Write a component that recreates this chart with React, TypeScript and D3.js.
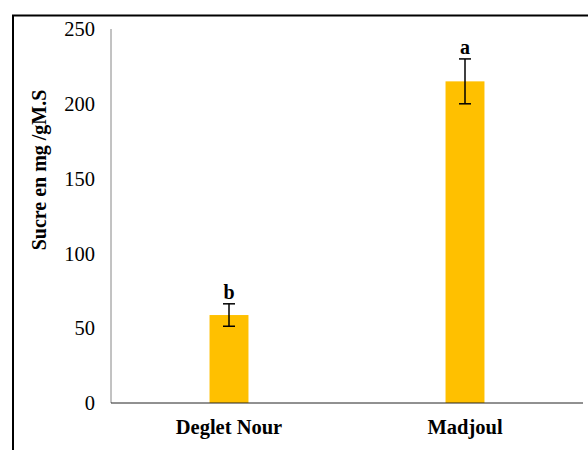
import React from "react";
import * as d3 from "d3";

const varieties = ["Deglet Nour", "Madjoul"];
const sugar = [58.8, 215];
const errors = [7.5, 15];
const letters = ["b", "a"];
const yTicks = [0, 50, 100, 150, 200, 250];

const W = 588, H = 450;
const margin = { left: 111, right: 5, top: 29, bottom: 47 };

export default function App() {
  const x = d3.scaleBand().domain(varieties).range([margin.left, W - margin.right]).padding(0);
  const y = d3.scaleLinear().domain([0, 250]).range([H - margin.bottom, margin.top]);
  const barW = x.bandwidth() * 0.165;

  return (
    <svg
      width={W}
      height={H}
      style={{ position: "absolute", left: 0, top: 0, background: "#fff", fontFamily: "Liberation Serif, Times New Roman, serif" }}
    >
      {/* outer frame, runs off the right/bottom like the original */}
      <rect x={13} y={15.5} width={600} height={500} fill="none" stroke="#000" strokeWidth={2} />

      {/* y axis */}
      <line x1={margin.left} x2={margin.left} y1={y(250)} y2={y(0)} stroke="#868686" strokeWidth={1} />
      {yTicks.map((t) => (
        <text key={t} x={95} y={y(t)} dy="0.35em" textAnchor="end" fontSize={20.5}>
          {t}
        </text>
      ))}
      <text transform="translate(46,170) rotate(-90)" textAnchor="middle" fontSize={20} fontWeight="bold">
        Sucre en mg /gM.S
      </text>

      {/* bars */}
      {varieties.map((v, i) => {
        const cx = (x(v) as number) + x.bandwidth() / 2;
        return (
          <g key={v}>
            <rect x={cx - barW / 2} y={y(sugar[i])} width={barW} height={y(0) - y(sugar[i])} fill="#FFC000" />
            <line x1={cx} x2={cx} y1={y(sugar[i] + errors[i])} y2={y(sugar[i] - errors[i])} stroke="#000" strokeWidth={1.5} />
            <line x1={cx - 6} x2={cx + 6} y1={y(sugar[i] + errors[i])} y2={y(sugar[i] + errors[i])} stroke="#000" strokeWidth={1.5} />
            <line x1={cx - 6} x2={cx + 6} y1={y(sugar[i] - errors[i])} y2={y(sugar[i] - errors[i])} stroke="#000" strokeWidth={1.5} />
            <text x={cx} y={y(sugar[i] + errors[i]) - 5} textAnchor="middle" fontSize={20} fontWeight="bold">
              {letters[i]}
            </text>
            <text x={cx} y={y(0) + 31} textAnchor="middle" fontSize={20.5} fontWeight="bold">
              {v}
            </text>
          </g>
        );
      })}

      {/* x axis */}
      <line x1={margin.left} x2={W - margin.right} y1={y(0)} y2={y(0)} stroke="#222" strokeWidth={1} />
    </svg>
  );
}
